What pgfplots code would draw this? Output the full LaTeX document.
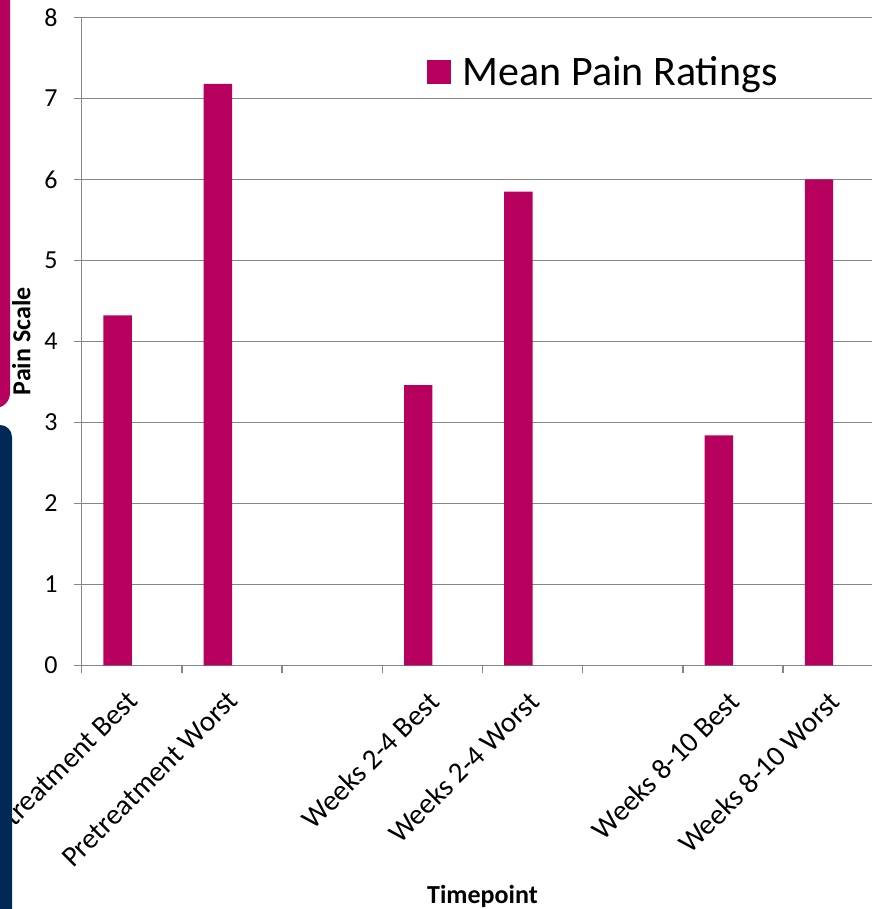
\documentclass[border=0pt]{standalone}
\usepackage{fontspec}
\setmainfont{Carlito}
\usepackage{pgfplots}
\pgfplotsset{compat=1.18}

\definecolor{barcol}{RGB}{183,0,94}
\definecolor{navy}{RGB}{0,41,88}
\definecolor{gridgray}{RGB}{134,134,134}

\begin{document}
\begin{tikzpicture}
\begin{axis}[
  at={(81.7bp,243.7bp)}, anchor=south west,
  scale only axis, width=801.6bp, height=647.8bp,
  xmin=-0.5, xmax=7.5, ymin=0, ymax=8,
  axis x line=bottom, axis y line=left,
  axis line style={-, draw=gridgray, line width=1.4bp},
  ytick={0,...,8},
  ymajorgrids, grid style={gridgray, line width=1.4bp},
  xtick={0,...,7},
  xticklabels={Pretreatment Best, Pretreatment Worst, {}, Weeks 2-4 Best, Weeks 2-4 Worst, {}, Weeks 8-10 Best, Weeks 8-10 Worst},
  minor xtick={-0.5,0.5,...,7.5},
  major x tick style={draw=none},
  tick style={gridgray, line width=1.4bp},
  tick align=outside,
  major tick length=8bp, minor tick length=8bp,
  /pgf/number format/assume math mode=true,
  xticklabel style={rotate=45, anchor=north east, inner sep=0pt,
    xshift=-8bp, font=\fontsize{29bp}{33bp}\selectfont},
  xticklabel shift=10bp,
  yticklabel style={anchor=east, inner sep=0pt,
    font=\fontsize{26bp}{30bp}\selectfont},
  yticklabel shift=16bp,
  xlabel={Timepoint},
  xlabel style={at={(axis description cs:0.5,-0.3561)}, anchor=center,
    font=\bfseries\fontsize{26bp}{30bp}\selectfont},
  ylabel={Pain Scale},
  ylabel style={at={(axis description cs:-0.0754,0.5)}, anchor=center,
    font=\bfseries\fontsize{26bp}{30bp}\selectfont},
  legend style={at={(axis description cs:0.4308,0.916)}, anchor=west,
    draw=none, fill=none, inner sep=0pt,
    /tikz/every odd column/.append style={column sep=10bp},
    font=\fontsize{42bp}{48bp}\selectfont},
  legend image code/.code={\fill[barcol] (0bp,-11.8bp) rectangle (23.6bp,11.8bp);},
]
\addplot[ybar, fill=barcol, draw=none, bar width=28.4bp, bar shift=-14.2bp]
  coordinates {(0,4.32) (1,7.18) (3,3.46) (4,5.85) (6,2.84) (7,6.00)};
\addlegendentry{Mean Pain Ratings}
\end{axis}
% slide side bars
\fill[barcol, rounded corners=15bp] (-40bp,501bp) rectangle (10bp,940bp);
\fill[navy, rounded corners=12bp] (-40bp,-30bp) rectangle (12bp,484bp);
\pgfresetboundingbox
\path[use as bounding box] (0,0) rectangle (872bp,909bp);
\end{tikzpicture}
\end{document}
